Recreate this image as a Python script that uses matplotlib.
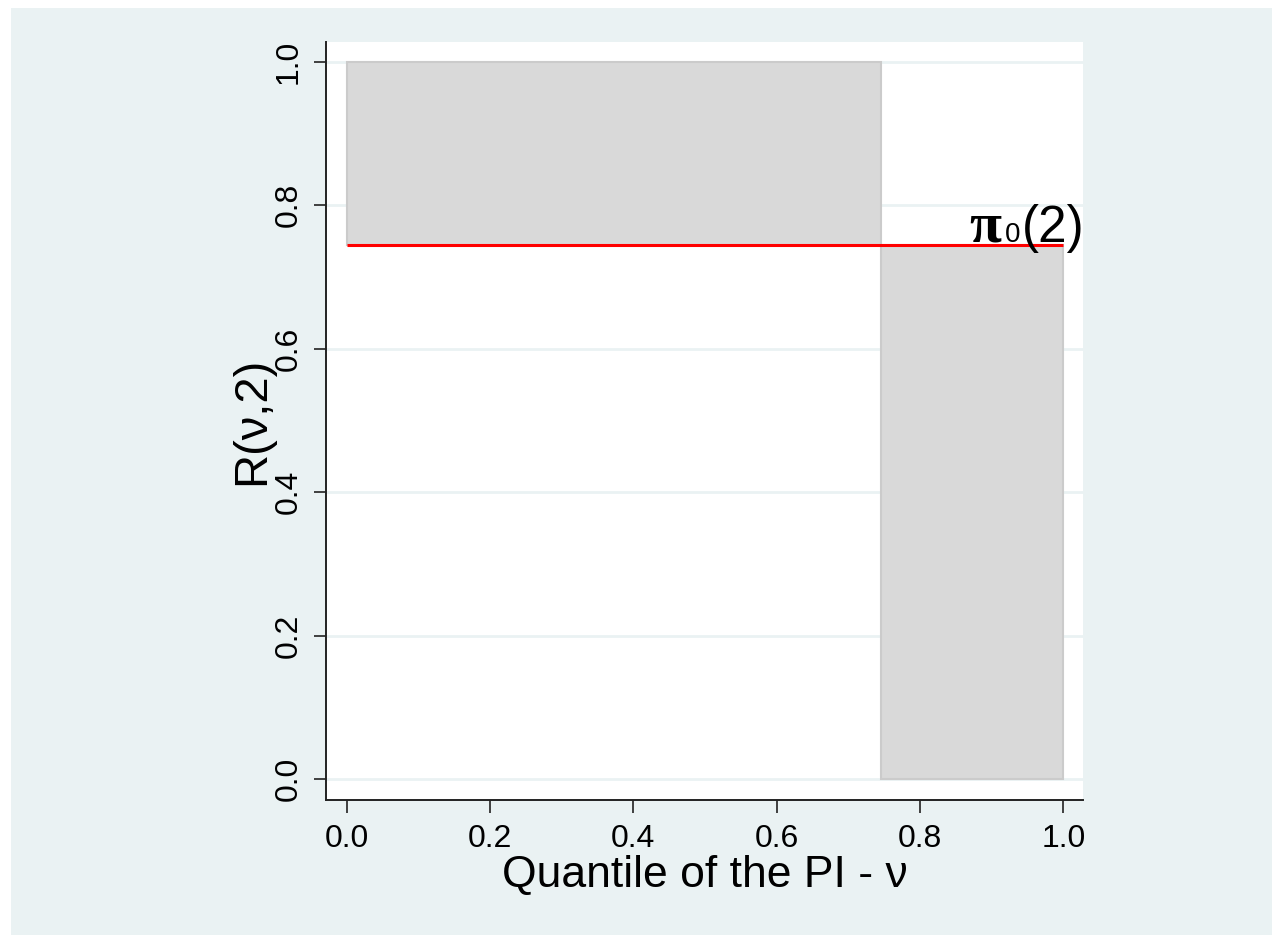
import matplotlib
matplotlib.use("Agg")
import matplotlib.pyplot as plt
from matplotlib.patches import Rectangle

# Data
threshold = 0.745          # quantile where R(v,2) drops
pi0_2 = 0.745              # pi_0(2) value (red line)
bar_left = [0.0, threshold]
bar_width = [threshold, 1.0 - threshold]
bar_bottom = [pi0_2, 0.0]
bar_height = [1.0 - pi0_2, pi0_2]
xticks = [0.0, 0.2, 0.4, 0.6, 0.8, 1.0]
yticks = [0.0, 0.2, 0.4, 0.6, 0.8, 1.0]
tick_labels = ["0.0", "0.2", "0.4", "0.6", "0.8", "1.0"]

plt.rcParams['font.family'] = ['Liberation Sans', 'DejaVu Sans']

W, H = 1272, 935
fig = plt.figure(figsize=(W / 100, H / 100), dpi=100)
fig.patch.set_facecolor('white')
bg = '#EAF2F3'
fig.patches.append(Rectangle((11 / W, 0), 1, 1 - 8 / H, transform=fig.transFigure,
                             facecolor=bg, edgecolor='none', zorder=-10))

ax = fig.add_axes([326 / W, 1 - 800 / H, (1083 - 326) / W, (800 - 42) / H])
ax.set_facecolor('white')

ax.bar(bar_left, bar_height, width=bar_width, bottom=bar_bottom, align='edge',
       color='#D9D9D9', edgecolor='#CBCBCB', linewidth=1.5, zorder=2)
ax.plot([0.0, 1.0], [pi0_2, pi0_2], color='#FF0000', linewidth=2.2,
        solid_capstyle='butt', zorder=3)

ax.set_xlim(-0.0289, 1.0274)
ax.set_ylim(-0.0288, 1.0275)

ax.set_xticks(xticks)
ax.set_xticklabels(tick_labels)
ax.set_yticks(yticks)
ax.set_yticklabels(tick_labels, rotation=90, va='center')
ax.tick_params(axis='both', labelsize=23, length=9, width=1.2, color='#222222')
ax.tick_params(axis='x', pad=8)
ax.tick_params(axis='y', pad=7)

ax.yaxis.grid(True, color=bg, linewidth=2.0, zorder=1)
ax.xaxis.grid(False)
ax.set_axisbelow(True)

for s in ['top', 'right']:
    ax.spines[s].set_visible(False)
for s in ['left', 'bottom']:
    ax.spines[s].set_color('#222222')
    ax.spines[s].set_linewidth(1.4)

ax.set_xlabel("Quantile of the PI - ν", fontsize=32, labelpad=1)
ax.set_ylabel("R(ν,2)", fontsize=34, labelpad=0)

# pi_0(2) label
base = pi0_2 + 0.004
ax.text(0.8682, base, "π", fontsize=42, ha='left', va='baseline',
        family=['Liberation Serif', 'DejaVu Serif'], fontweight='bold', clip_on=False)
ax.text(0.9185, base, "0", fontsize=20, ha='left', va='baseline', clip_on=False)
ax.text(0.942, base, "(2)", fontsize=37, ha='left', va='baseline', clip_on=False)

fig.savefig("out.png", dpi=100, facecolor=fig.get_facecolor())
